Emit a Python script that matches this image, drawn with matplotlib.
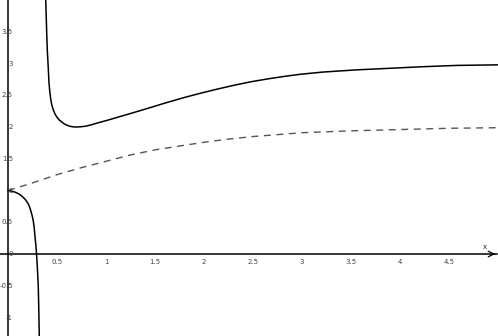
import numpy as np
import matplotlib
matplotlib.use("Agg")
import matplotlib.pyplot as plt

# upper branch of the solid curve (right of the pole)
upper_x = [0.380, 0.385, 0.395, 0.401, 0.411, 0.418, 0.427, 0.436, 0.448, 0.462, 0.478,
           0.497, 0.520, 0.548, 0.573, 0.599, 0.625, 0.650, 0.675, 0.701, 0.75, 0.80,
           0.85, 0.905, 1.00, 1.10, 1.245, 1.45, 1.62, 1.80, 1.96, 2.13,
           2.30, 2.47, 2.64, 2.81, 2.98, 3.21, 3.56, 3.90, 4.24, 4.58, 5.05]
upper_y = [4.40, 4.00, 3.48, 3.21, 2.93, 2.70, 2.55, 2.44, 2.34, 2.27, 2.21,
           2.16, 2.115, 2.08, 2.05, 2.03, 2.015, 2.006, 2.001, 2.00, 2.005, 2.015,
           2.035, 2.06, 2.10, 2.145, 2.21, 2.305, 2.385, 2.465, 2.53, 2.595,
           2.655, 2.71, 2.755, 2.795, 2.83, 2.865, 2.90, 2.925, 2.95, 2.97, 2.98]

# lower branch of the solid curve (left of the pole)
lower_x = [0.0, 0.035, 0.071, 0.10, 0.122, 0.15, 0.173, 0.19, 0.207, 0.225, 0.242,
           0.25, 0.258, 0.267, 0.276, 0.285, 0.293, 0.30, 0.309, 0.314, 0.319, 0.322]
lower_y = [1.0, 0.99, 0.975, 0.955, 0.935, 0.90, 0.865, 0.83, 0.79, 0.72, 0.63,
           0.58, 0.52, 0.42, 0.27, 0.13, -0.04, -0.22, -0.51, -0.85, -1.28, -1.40]

# dashed curve
dash_x = [0.0, 0.25, 0.5, 0.75, 1.0, 1.25, 1.5, 1.75, 2.0, 2.25, 2.5, 2.75,
          3.0, 3.5, 4.0, 4.5, 5.05]
dash_y = [1.0, 1.12, 1.25, 1.36, 1.46, 1.56, 1.64, 1.70, 1.76, 1.81, 1.85, 1.88,
          1.91, 1.94, 1.96, 1.98, 1.99]

x_ticks = [0.5, 1, 1.5, 2, 2.5, 3, 3.5, 4, 4.5]
y_ticks = [-1, -0.5, 0, 0.5, 1, 1.5, 2, 2.5, 3, 3.5]

fig = plt.figure(figsize=(4.98, 3.36), dpi=100)
ax = fig.add_axes([0, 0, 1, 1])
ax.set_xlim(-0.0816, 5.0)
ax.set_ylim(-1.291, 4.0)
ax.axis("off")

# axes
ax.plot([-0.0816, 4.99], [0, 0], color="black", lw=1.1)
ax.plot([0, 0], [-1.291, 4.0], color="black", lw=1.1)
ax.annotate("", xy=(5.0, 0), xytext=(4.93, 0),
            arrowprops=dict(arrowstyle="->", color="black", lw=0.9))
ax.text(4.87, 0.11, "x", fontsize=5, ha="center", va="center", color="#222")

for t in x_ticks:
    ax.text(t, -0.13, str(t), fontsize=5, ha="center", va="center", color="#444")
for t in y_ticks:
    ax.text(0.05, t, str(t), fontsize=5, ha="right", va="center", color="#444")

ax.plot(dash_x, dash_y, color="#555555", lw=1.0, dashes=(5, 4))
ax.plot(upper_x, upper_y, color="black", lw=1.1)
ax.plot(lower_x, lower_y, color="black", lw=1.1)

fig.savefig("out.png", dpi=100)
